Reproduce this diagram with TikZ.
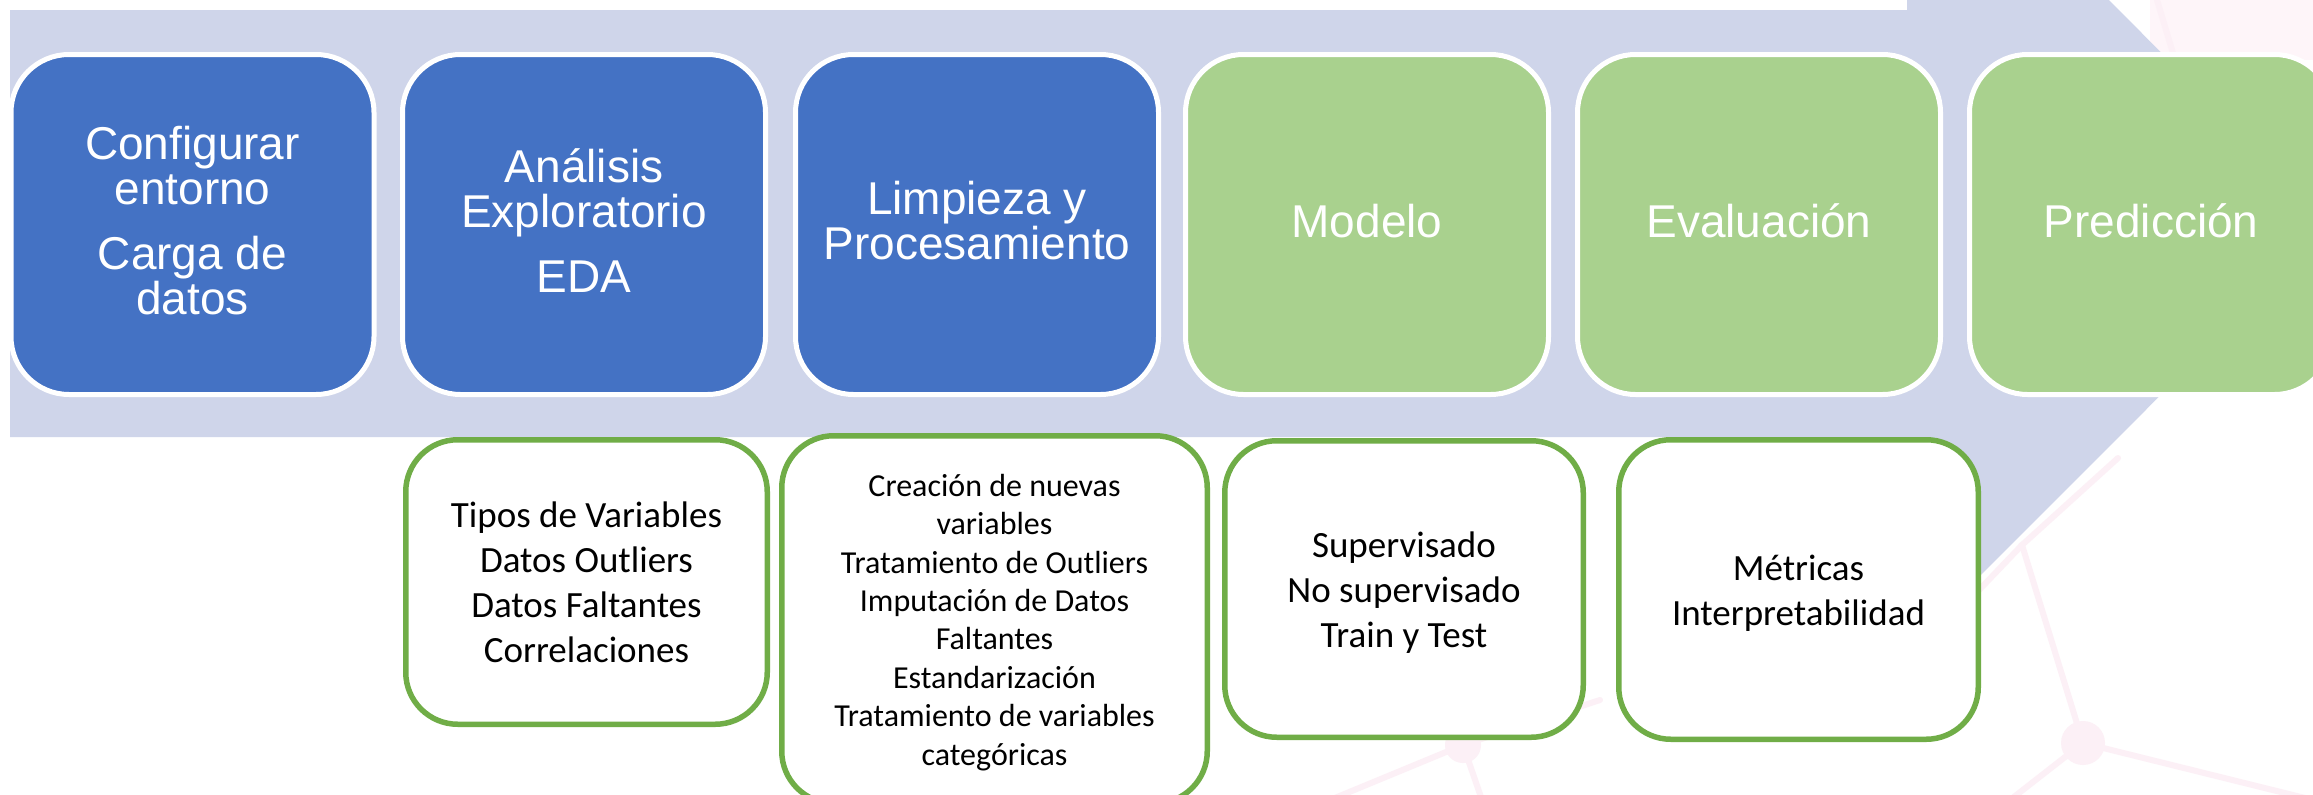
\documentclass[tikz,border=0pt]{standalone}
\usepackage{fontspec}
\setmainfont{Liberation Sans}
\newfontfamily\calib{Carlito}
\definecolor{lav}{HTML}{CFD5EA}
\definecolor{bluebox}{HTML}{4472C4}
\definecolor{greenbox}{HTML}{A9D18E}
\definecolor{greenline}{HTML}{70AD47}
\definecolor{pinkfaint}{HTML}{FCF0F6}
\definecolor{pinkwash}{HTML}{FEF5F9}
\newcommand{\mystrutT}{\rule{0pt}{0.905em}}
\newcommand{\mystrutB}{\rule[-0.35em]{0pt}{0pt}}
\newcommand{\mystrutC}{\rule[-0.2em]{0pt}{0pt}}
\begin{document}
\begin{tikzpicture}[x=1pt,y=-1pt,
  topbox/.style={rectangle, rounded corners=58pt, draw=white, line width=5pt,
    minimum width=363pt, minimum height=340pt, inner sep=0pt, text=white,
    align=center, font=\fontsize{46}{45}\selectfont},
  bluestep/.style={topbox, fill=bluebox},
  greenstep/.style={topbox, fill=greenbox},
  detail/.style={rectangle, rounded corners=52pt, draw=greenline, line width=5.5pt,
    fill=white, inner sep=0pt, align=center, text=black,
    font=\calib\fontsize{37}{45}\selectfont},
  net/.style={draw=pinkfaint, line width=6pt, line cap=round}]
\useasboundingbox (0,0) rectangle (2313,795);
\clip (0,0) rectangle (2313,795);
\fill[white] (0,0) rectangle (2313,795);
% faint background network
\fill[pinkwash] (2150,0) rectangle (2313,60);
\draw[net] (2083,743) -- (2022,545) -- (2118,458);
\draw[net] (2083,743) -- (2313,800);
\draw[net] (2083,743) -- (2010,800);
\draw[net] (2022,545) -- (1960,610);
\draw[net] (1463,745) -- (1482,800);
\draw[net] (1463,745) -- (1330,800);
\draw[net] (1463,745) -- (1600,700);
\draw[net] (2157,0) -- (2175,60);
\fill[pinkfaint] (2083,743) circle (22);
\fill[pinkfaint] (1463,745) circle (18);
% big arrow
\fill[lav] (10,10) -- (1907,10) -- (1907,-202) -- (2332,223.5) -- (1907,649) -- (1907,437) -- (10,437) -- cycle;
% top steps
\node[bluestep] (s1) at (192.5,224.5) {\mystrutT Configurar\\entorno\\[20pt]Carga de\\datos\mystrutB};
\node[bluestep] (s2) at (584,224.5) {\mystrutT Análisis\\Exploratorio\\[20pt]EDA\mystrutB};
\node[bluestep] (s3) at (977,224.5) {\mystrutT Limpieza y\\Procesamiento\mystrutB};
\node[greenstep] (s4) at (1367,224.5) {\mystrutT Modelo\mystrutB};
\node[greenstep] (s5) at (1759,224.5) {\mystrutT Evaluación\mystrutB};
\node[greenstep] (s6) at (2151,224.5) {\mystrutT Predicción\mystrutB};
% detail boxes
\node[detail, minimum width=361.5pt, minimum height=284.5pt] (d2) at (586.5,582)
  {\mystrutT Tipos de Variables\\Datos Outliers\\Datos Faltantes\\Correlaciones\mystrutC};
\node[detail, minimum width=425.5pt, minimum height=367.5pt,
  font=\calib\fontsize{32}{38.4}\selectfont] (d3) at (994.5,619.5)
  {\mystrutT Creación de nuevas\\variables\\Tratamiento de Outliers\\Imputación de Datos\\Faltantes\\Estandarización\\Tratamiento de variables\\categóricas\mystrutC};
\node[detail, minimum width=358.5pt, minimum height=296.5pt] (d4) at (1404,589)
  {\mystrutT Supervisado\\No supervisado\\Train y Test\mystrutC};
\node[detail, minimum width=359.5pt, minimum height=299.5pt] (d5) at (1798.5,589.5)
  {\mystrutT Métricas\\Interpretabilidad\mystrutC};
\end{tikzpicture}
\end{document}
